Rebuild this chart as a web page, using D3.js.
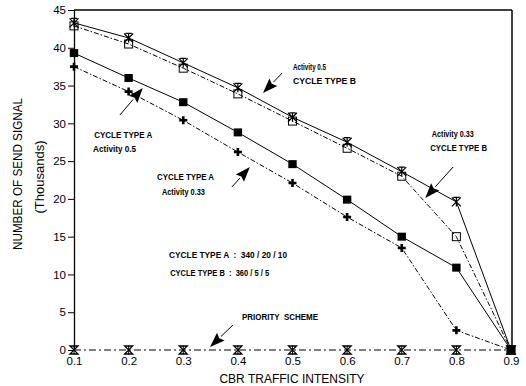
<!DOCTYPE html>
<html><head><meta charset="utf-8">
<script src="https://cdn.jsdelivr.net/npm/d3@7"></script>
<style>
html,body{margin:0;padding:0;background:#fff;}
svg{display:block;font-family:"Liberation Sans",Arial,sans-serif;}
</style></head>
<body>
<svg id="chart" width="526" height="386"></svg>
<script>
// ---- data ----
const intensity = [0.1, 0.2, 0.3, 0.4, 0.5, 0.6, 0.7, 0.8, 0.9];
const typeB_act05  = [43.3, 41.3, 38.0, 34.7, 30.8, 27.5, 23.6, 19.6, 0];
const typeB_act033 = [42.9, 40.5, 37.3, 33.9, 30.3, 26.7, 23.0, 15.0, 0];
const typeA_act05  = [39.3, 36.0, 32.8, 28.8, 24.6, 19.9, 15.0, 10.9, 0];
const typeA_act033 = [37.5, 34.2, 30.4, 26.2, 22.1, 17.6, 13.5, 2.6, 0];
const priority     = [0, 0, 0, 0, 0, 0, 0, 0, 0];
const yTicks = [0, 5, 10, 15, 20, 25, 30, 35, 40, 45];
const xTicks = [0.1, 0.2, 0.3, 0.4, 0.5, 0.6, 0.7, 0.8, 0.9];

// annotation texts (placed in data units)
const labels = [
  {t:"Activity 0.5",  x:0.501, y:37.06, w:33},
  {t:"CYCLE TYPE B",  x:0.501, y:35.2,  w:63},
  {t:"CYCLE TYPE A",  x:0.137, y:28.06, w:58},
  {t:"Activity 0.5",  x:0.135, y:26.2,  w:43},
  {t:"CYCLE TYPE A",  x:0.252, y:22.5,  w:57},
  {t:"Activity 0.33", x:0.261, y:20.5,  w:43},
  {t:"CYCLE TYPE A  :  340 / 20 / 10", x:0.274, y:12.18, w:118},
  {t:"CYCLE TYPE B  :  360 / 5 / 5",   x:0.276, y:9.79,  w:99},
  {t:"Activity 0.33", x:0.755, y:28.19, w:42},
  {t:"CYCLE TYPE B",  x:0.752, y:26.34, w:57},
  {t:"PRIORITY  SCHEME", x:0.4075, y:3.97, w:76}
];
const arrows = [
  {x1:0.481, y1:36.66, x2:0.446, y2:34.01},
  {x1:0.184, y1:31.1,  x2:0.226, y2:34.68},
  {x1:0.389, y1:21.57, x2:0.422, y2:24.22},
  {x1:0.794, y1:24.22, x2:0.743, y2:20.12},
  {x1:0.391, y1:3.31,  x2:0.349, y2:0.40}
];

// ---- layout ----
const svg = d3.select("#chart");
const x = d3.scaleLinear().domain([0.1, 0.9]).range([74, 511]);
const y = d3.scaleLinear().domain([0, 45]).range([350, 10]);

// frame (top + right)
svg.append("line").attr("x1", 74).attr("x2", 512).attr("y1", y(45)).attr("y2", y(45))
  .attr("stroke", "#000").attr("stroke-width", 1.3);
svg.append("line").attr("x1", 512).attr("x2", 512).attr("y1", y(45)).attr("y2", y(0))
  .attr("stroke", "#000").attr("stroke-width", 1.5);

// y axis
const yAxis = svg.append("g").attr("transform", `translate(${x(0.1)},0)`)
  .call(d3.axisLeft(y).tickValues(yTicks).tickSize(6).tickSizeOuter(0).tickPadding(2).tickFormat(d3.format("d")));
yAxis.select(".domain").attr("stroke", "#000").attr("stroke-width", 1.3);
yAxis.selectAll("text").attr("font-size", 11.5).attr("fill", "#000").attr("font-family", "Liberation Sans, Arial, sans-serif");

// x axis (labels only)
const xAxis = svg.append("g").attr("transform", `translate(0,${y(0)})`)
  .call(d3.axisBottom(x).tickValues(xTicks).tickSize(0).tickPadding(7).tickFormat(d3.format(".1f")));
xAxis.select(".domain").remove();
xAxis.selectAll("text").attr("font-size", 11.5).attr("fill", "#000").attr("font-family", "Liberation Sans, Arial, sans-serif");

// axis titles
svg.append("text").attr("transform", "translate(22,174) rotate(-90)")
  .attr("text-anchor", "middle").attr("font-size", 12.5)
  .attr("textLength", 152).attr("lengthAdjust", "spacingAndGlyphs").text("NUMBER OF SEND SIGNAL");
svg.append("text").attr("transform", "translate(44,177) rotate(-90)")
  .attr("text-anchor", "middle").attr("font-size", 13).text("(Thousands)");
svg.append("text").attr("x", 292).attr("y", 383).attr("text-anchor", "middle")
  .attr("font-size", 12).text("CBR TRAFFIC INTENSITY");

// ---- lines ----
const line = d3.line().x((d, i) => x(intensity[i])).y(d => y(d));
const series = [
  {v: typeB_act05,  dash: null,        m: "star"},
  {v: typeB_act033, dash: "5,2,1.5,2", m: "osq"},
  {v: typeA_act05,  dash: null,        m: "fsq"},
  {v: typeA_act033, dash: "5,2,1.5,2", m: "plus"},
  {v: priority,     dash: "7,3,2,3",   m: "prio"}
];
series.forEach(s => {
  svg.append("path").attr("d", line(s.v)).attr("fill", "none")
    .attr("stroke", "#000").attr("stroke-width", 1)
    .attr("stroke-dasharray", s.dash);
});

// ---- markers ----
function drawMarker(g, type) {
  if (type === "star") {
    const r = 4.5;
    g.append("path").attr("d", `M${-r},${-r}L${r},${r}M${-r},${r}L${r},${-r}M0,${-r}L0,${r}M${-r*0.7},${-r}L${r*0.7},${-r}`)
      .attr("stroke", "#000").attr("stroke-width", 1.2).attr("fill", "none");
  } else if (type === "osq") {
    g.append("rect").attr("x", -4).attr("y", -4).attr("width", 8).attr("height", 8)
      .attr("fill", "none").attr("stroke", "#000").attr("stroke-width", 1);
  } else if (type === "fsq") {
    g.append("rect").attr("x", -4.2).attr("y", -4).attr("width", 8.4).attr("height", 8).attr("fill", "#000");
  } else if (type === "plus") {
    g.append("path").attr("d", "M-4,0L4,0M0,-4L0,4").attr("stroke", "#000").attr("stroke-width", 2.6);
  } else if (type === "prio") {
    g.append("path").attr("d", "M-4,-4L4,-4L-4,4L4,4Z").attr("fill", "none")
      .attr("stroke", "#000").attr("stroke-width", 1.3);
    g.append("path").attr("d", "M0,-4.5L0,4.5").attr("stroke", "#000").attr("stroke-width", 1);
  }
}
series.forEach(s => {
  s.v.forEach((d, i) => {
    const g = svg.append("g").attr("transform", `translate(${x(intensity[i])},${y(d)})`);
    drawMarker(g, s.m);
  });
});

// ---- annotations ----
labels.forEach(l => {
  svg.append("text").attr("x", x(l.x)).attr("y", y(l.y))
    .attr("font-size", 8.5).attr("font-weight", "bold")
    .attr("textLength", l.w).attr("lengthAdjust", "spacingAndGlyphs")
    .attr("xml:space", "preserve").style("white-space", "pre")
    .text(l.t);
});
arrows.forEach(a => {
  const x1 = x(a.x1), y1 = y(a.y1), x2 = x(a.x2), y2 = y(a.y2);
  const ang = Math.atan2(y2 - y1, x2 - x1);
  const L = 15, W = 5.5;
  const bx = x2 - L * Math.cos(ang), by = y2 - L * Math.sin(ang);
  svg.append("line").attr("x1", x1).attr("y1", y1).attr("x2", bx).attr("y2", by)
    .attr("stroke", "#000").attr("stroke-width", 1);
  const px = -Math.sin(ang) * W, py = Math.cos(ang) * W;
  svg.append("path").attr("d", `M${x2},${y2}L${bx + px},${by + py}L${bx + 0.15*(x2-bx)},${by + 0.15*(y2-by)}L${bx - px},${by - py}Z`)
    .attr("fill", "#000");
});
</script>
</body></html>
